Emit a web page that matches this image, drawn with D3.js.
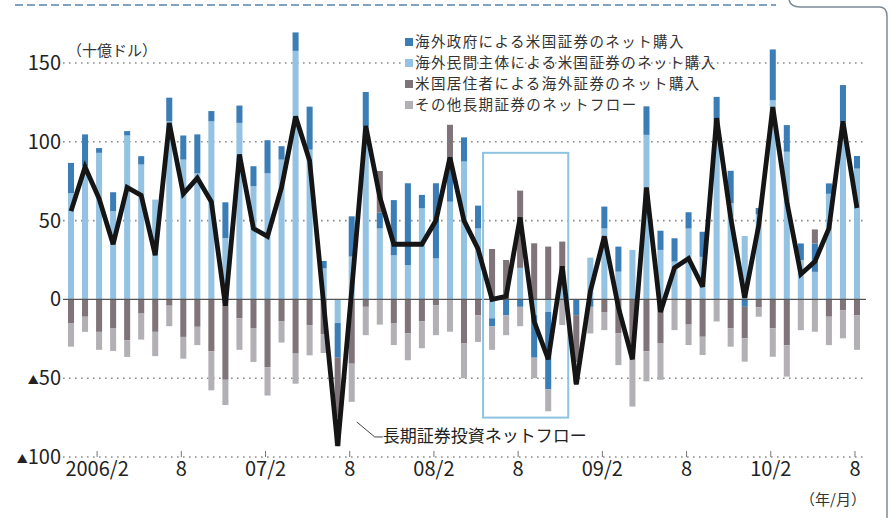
<!DOCTYPE html>
<html><head><meta charset="utf-8">
<script src="https://cdn.jsdelivr.net/npm/d3@7/dist/d3.min.js"></script>
<style>
html,body{margin:0;padding:0;background:#fff;}
svg{display:block;font-family:"Noto Sans CJK JP","Noto Sans",sans-serif;}
</style></head><body>
<svg id="c" width="890" height="518"></svg>
<script>
const categories = ["05/12","06/1","06/2","06/3","06/4","06/5","06/6","06/7","06/8","06/9","06/10","06/11","06/12",
"07/1","07/2","07/3","07/4","07/5","07/6","07/7","07/8","07/9","07/10","07/11","07/12",
"08/1","08/2","08/3","08/4","08/5","08/6","08/7","08/8","08/9","08/10","08/11","08/12",
"09/1","09/2","09/3","09/4","09/5","09/6","09/7","09/8","09/9","09/10","09/11","09/12",
"10/1","10/2","10/3","10/4","10/5","10/6","10/7","10/8"];

// 海外民間主体による米国証券のネット購入
const privateBuy = [67.5,84.5,93,56,104,85.6,63.3,113,88.7,80,113,38.9,112,71.8,80,88.7,157.7,95,19.7,-15,27.2,110,45,28,21.8,57.8,26,62,87.5,45,-12,0,20,-10,-8,20,0,26.5,45,17.6,31.4,104.4,31.4,24,45,27,111.6,61,40.2,54,126.4,93.7,25,17.5,67,112.7,83];
// 海外政府による米国証券のネット購入
const officialBuy = [19.1,20.2,3,12,2.8,5.3,0,15,15.3,24.7,6.5,22.7,11,12.7,21,8.5,11.7,27.3,4.7,-22,25.5,21.6,10,35,51.9,8.5,47.7,28,15.3,14.5,-5,-10,-4.7,-27,-49,0,-10,-4.7,13.9,15.9,0,18.1,12.2,14.8,10.3,15.9,16.9,20.6,-4.7,4,32.2,16.9,10.5,18,6.6,23.3,8];
// 米国居住者による海外証券のネット購入
const residentBuy = [-15,-11,-20.6,-18.5,-26,-9,-20.6,-4,-23.8,-17.4,-33,-51,-12,-18.5,-43,-14,-34.4,-16.3,-22,-38,-40.8,-4.7,26.5,-15,-21.6,-14,-3.6,20.8,-28,-10,32,25,49,35.6,33.5,16.7,-30,0,-8,-21.6,-31,-33,-28,0,-16,-23.7,0,-18.4,-20,-5,-18.4,-29,0,8.9,-11,-6.8,-10];
// その他長期証券のネットフロー
const otherFlow = [-15,-9.6,-11.4,-14.2,-10.5,-16.5,-15.4,-13,-13.8,-11.6,-24.7,-16,-20,-21.2,-18,-13.4,-19.1,-19.2,-12,-18,-24.2,-18,-16,-14,-17,-17,-19.1,-20.5,-22,-17,-15,-12.7,-12.3,-13,-14,-16.3,-13.5,-16.9,-11.5,-20.1,-37,-19,-23,-19.5,-13,-11.6,-14,-11.6,-14.8,-6,-18,-20,-19.5,-20.5,-18,-17.9,-22];
// 長期証券投資ネットフロー
const netFlow = [56,84,64,35,71,66,28,112,67,77,62,-4,92,45,40,71,116,88,-3,-93,6,110,65,35,35,35,50,90,50,32,0,2,52,-14,-38,21,-54,5,40,-5,-38,71,-8,20,26,8,115,52,1,47,122,62,16,24,45,113,58];

const tickCats = ["06/2","06/8","07/2","07/8","08/2","08/8","09/2","09/8","10/2","10/8"];
const tickLabels = ["2006/2","8","07/2","8","08/2","8","09/2","8","10/2","8"];
const yTicks = [150,100,50,0,-50,-100];
const seriesKeys = ["privateBuy","officialBuy","residentBuy","otherFlow"];
const seriesNames = ["海外政府による米国証券のネット購入","海外民間主体による米国証券のネット購入","米国居住者による海外証券のネット購入","その他長期証券のネットフロー"];
const legendKeys = ["officialBuy","privateBuy","residentBuy","otherFlow"];
const colors = {officialBuy:"#3b7db6", privateBuy:"#93c2e2", residentBuy:"#7f7479", otherFlow:"#b2afb5"};

const svg = d3.select("#c");
const x = d3.scaleBand().domain(categories).range([64,864]).paddingInner(0.57).paddingOuter(0.285);
const y = d3.scaleLinear().domain([-100,150]).range([457,63]);
const cx = c => x(c) + x.bandwidth()/2;

// top decoration
svg.append("line").attr("x1",15).attr("x2",776).attr("y1",5).attr("y2",5)
  .attr("stroke","#7fa2c3").attr("stroke-width",2).attr("stroke-dasharray","8,4");
svg.append("path").attr("d","M789,0 Q791,7 800,7 L879,7 Q887,7 887,16 L887,518")
  .attr("fill","none").attr("stroke","#7c8a98").attr("stroke-width",1.5);

// gridlines
yTicks.filter(v=>v!==0).forEach(v=>{
  svg.append("line").attr("x1",63).attr("x2",866).attr("y1",y(v)).attr("y2",y(v))
    .attr("stroke","#8c8c8c").attr("stroke-width",1.6).attr("stroke-dasharray","1.6,4.4");
});

// stacked bars
const rows = categories.map((c,i)=>({cat:c, privateBuy:privateBuy[i], officialBuy:officialBuy[i], residentBuy:residentBuy[i], otherFlow:otherFlow[i]}));
const stacked = d3.stack().keys(seriesKeys).offset(d3.stackOffsetDiverging)(rows);
svg.append("g").selectAll("g").data(stacked).join("g")
  .attr("fill", d=>colors[d.key])
  .selectAll("rect").data(d=>d).join("rect")
  .attr("x", d=>x(d.data.cat)).attr("width", x.bandwidth())
  .attr("y", d=>y(Math.max(d[0],d[1])))
  .attr("height", d=>Math.abs(y(d[0])-y(d[1])));

// zero line
svg.append("line").attr("x1",63).attr("x2",866).attr("y1",y(0)).attr("y2",y(0))
  .attr("stroke","#555").attr("stroke-width",1.2);

// highlight box
svg.append("rect").attr("x", x("08/6")-6).attr("y", y(93))
  .attr("width", cx("08/11")+6 - (x("08/6")-6)).attr("height", y(-75)-y(93))
  .attr("fill","none").attr("stroke","#8ec4e2").attr("stroke-width",2);

// net flow line
const line = d3.line().x((d,i)=>cx(categories[i])).y(d=>y(d));
svg.append("path").datum(netFlow).attr("d",line).attr("fill","none")
  .attr("stroke","#151515").attr("stroke-width",4.8).attr("stroke-linejoin","miter").attr("stroke-miterlimit",3);

// callout
const px = cx("07/8"), py = y(-93);
svg.append("polyline").attr("points",`${px+5},${py-24} ${px+23},${py-9} ${px+31},${py-9}`)
  .attr("fill","none").attr("stroke","#444").attr("stroke-width",1);
svg.append("text").attr("x",px+31).attr("y",py-4).attr("font-size",17).attr("fill","#222").text("長期証券投資ネットフロー");

// y labels
const yl = svg.append("g").attr("fill","#222").attr("font-size",20).attr("text-anchor","end");
yTicks.forEach(v=>{
  const t = yl.append("text").attr("x",61).attr("y",y(v)+7);
  if (v<0){ t.append("tspan").attr("font-size",11).attr("dy",-1).text("▲"); t.append("tspan").attr("dy",1).text(Math.abs(v)); }
  else t.text(v);
});
svg.append("text").attr("x",67).attr("y",56).attr("font-size",15).attr("fill","#333").text("（十億ドル）");

// x axis ticks & labels
const xa = svg.append("g");
tickCats.forEach((c,i)=>{
  const tx = cx(c)-2;
  xa.append("line").attr("x1",tx).attr("x2",tx).attr("y1",y(-100)-6).attr("y2",y(-100)).attr("stroke","#777").attr("stroke-width",1);
  xa.append("text").attr("x",tx).attr("y",476).attr("text-anchor","middle").attr("font-size",20).attr("fill","#222").text(tickLabels[i]);
});
svg.append("text").attr("x",866).attr("y",505).attr("text-anchor","end").attr("font-size",15).attr("fill","#333").text("（年/月）");

// legend
const lg = svg.append("g").attr("font-size",14.5).attr("letter-spacing",1.4).attr("fill","#333");
legendKeys.forEach((k,i)=>{
  const ly = 42 + i*21;
  lg.append("rect").attr("x",405).attr("y",ly-4).attr("width",8).attr("height",8).attr("fill",colors[k]);
  lg.append("text").attr("x",415).attr("y",ly+5).text(seriesNames[i]);
});
</script>
</body></html>
